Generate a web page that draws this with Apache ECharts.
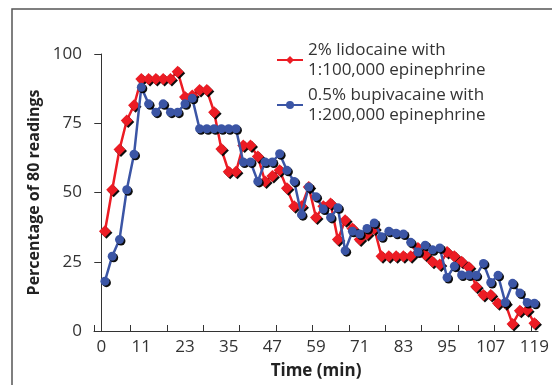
<!DOCTYPE html>
<html>
<head>
<meta charset="utf-8">
<script src="https://cdn.jsdelivr.net/npm/echarts@6/dist/echarts.min.js"></script>
<style>
html,body{margin:0;padding:0;background:#fff;}
#c{width:552px;height:385px;}
</style>
</head>
<body>
<div id="c"></div>
<script>
// Time of each reading (min)
const times = [1,3,5,7,9,11,13,15,17,19,21,23,25,27,29,31,33,35,37,39,41,43,45,47,49,51,53,55,57,59,61,63,65,67,69,71,73,75,77,79,81,83,85,87,89,91,93,95,97,99,101,103,105,107,109,111,113,115,117,119];
// 2% lidocaine with 1:100,000 epinephrine
const lidocaine = [36,51,65.5,76,81.5,91,91,91,91,91,93.6,84.5,85,87,87,79,65.7,57.5,57.5,67,67,63,54,56,58,51.5,45,45,52,41,45,46,33,40,37,33,35,37,27,27,27,27,27,30,27.5,25,24,28.5,27,25,23,16,13,13,10,10,2.5,7.3,7.5,2.8];
// 0.5% bupivacaine with 1:200,000 epinephrine
const bupivacaine = [18,27,33,51,63.8,88,82,79,82,79,79,82,84,73,73,73,73,73,73,61,61,54,61,61,64,58,54,42,52,48.5,44,41,44.5,29,36,35,37,39,34,36,35.3,35,32,28.5,31,29.3,30,19.3,23.4,20.2,20.2,20.1,24.4,17.5,20.1,10.3,17.2,13.7,10.3,10];
const xTickLabels = [0,11,23,35,47,59,71,83,95,107,119];
const xTickMarks = [-2,8,18,28,38,48,58,68,78,88,98,108,118];
const seriesNames = ['2% lidocaine with\n1:100,000 epinephrine','0.5% bupivacaine with\n1:200,000 epinephrine'];

const FONT = '"Open Sans", Lato, sans-serif';
const axisColor = '#333';
const red = '#EC1C24';
const blue = '#3B55A5';

const chart = echarts.init(document.getElementById('c'), null, {renderer:'canvas'});
const pair = (ys) => times.map((t,i)=>[t, ys[i]]);
const shadow = {shadowColor:'rgba(0,0,0,0.95)', shadowBlur:0, shadowOffsetX:1.5, shadowOffsetY:1.5};

chart.setOption({
  animation:false,
  textStyle:{fontFamily:FONT},
  grid:{left:94, right:7, top:54, bottom:53, containLabel:false},
  graphic:[{type:'rect', shape:{x:12, y:9, width:600, height:500}, style:{fill:'none', stroke:'#555', lineWidth:1.5}, z:-1}],
  legend:{
    orient:'vertical', left:276, top:30, padding:0, itemGap:-15,
    itemWidth:26, itemHeight:10,
    textStyle:{fontFamily:FONT, fontSize:17, color:'#333', lineHeight:20, padding:[20,0,0,0]},
    data:seriesNames
  },
  xAxis:{
    type:'value', min:-2, max:120,
    axisLine:{show:true, lineStyle:{color:axisColor, width:1}},
    axisTick:{show:true, inside:true, length:6, customValues:xTickMarks, lineStyle:{color:axisColor}},
    axisLabel:{customValues:xTickLabels, fontSize:17, color:'#333', margin:8, fontFamily:FONT},
    splitLine:{show:false},
    name:'Time (min)', nameLocation:'middle', nameGap:32,
    nameTextStyle:{fontWeight:'bold', fontSize:17, color:'#222', fontFamily:FONT}
  },
  yAxis:{
    type:'value', min:0, max:100, interval:25,
    axisLine:{show:true, lineStyle:{color:axisColor, width:1}},
    axisTick:{show:true, length:7, lineStyle:{color:axisColor}},
    axisLabel:{fontSize:17, color:'#333', margin:12, fontFamily:FONT},
    splitLine:{show:false},
    name:'Percentage of 80 readings', nameLocation:'middle', nameGap:40,
    nameTextStyle:{fontWeight:'bold', fontSize:16, color:'#222', fontFamily:FONT}
  },
  series:[
    {name:seriesNames[0], type:'line', data:pair(lidocaine), symbol:'diamond', symbolSize:12,
     lineStyle:{color:red, width:2.5}, itemStyle:Object.assign({color:red}, shadow), z:2},
    {name:seriesNames[1], type:'line', data:pair(bupivacaine), symbol:'circle', symbolSize:9,
     lineStyle:{color:blue, width:2.5}, itemStyle:Object.assign({color:blue}, shadow), z:3}
  ]
});
</script>
</body>
</html>
